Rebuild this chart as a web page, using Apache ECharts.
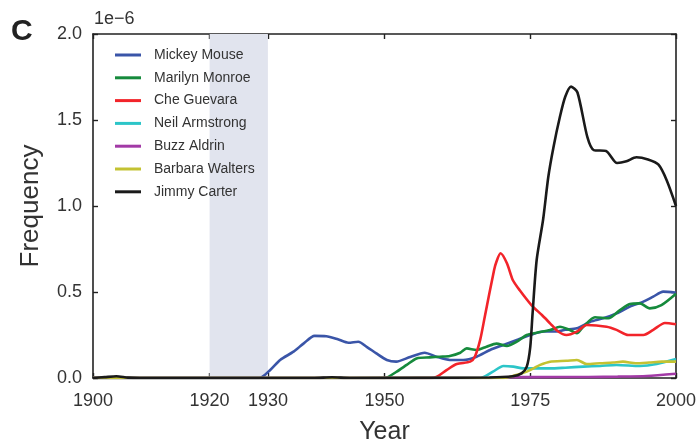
<!DOCTYPE html>
<html>
<head>
<meta charset="utf-8">
<script src="https://cdn.jsdelivr.net/npm/echarts@6/dist/echarts.min.js"></script>
<style>html,body{margin:0;padding:0;background:#fff}#c{width:697px;height:442px}</style>
</head>
<body>
<div id="c"></div>
<script>
// Values are in units of 1e-6
const seriesNames = ['Mickey Mouse','Marilyn Monroe','Che Guevara','Neil Armstrong','Buzz Aldrin','Barbara Walters','Jimmy Carter'];
const xTicks = [1900, 1920, 1930, 1950, 1975, 2000];
const yTicks = [0, 0.5, 1.0, 1.5, 2.0];
const shadedPeriod = [1920, 1930];

const mickeyMouse = [[1900,0],[1928.5,0],[1930.4,0.047],[1932.1,0.105],[1934.4,0.153],[1936.1,0.2],[1938,0.245],[1940,0.243],[1942,0.225],[1943.8,0.205],[1945.5,0.211],[1947,0.18],[1948.6,0.143],[1950.4,0.105],[1952,0.095],[1954.4,0.122],[1956.9,0.147],[1958.9,0.124],[1961.2,0.105],[1963.5,0.105],[1965.8,0.124],[1968.1,0.163],[1970.4,0.192],[1972.7,0.221],[1975,0.25],[1977.3,0.27],[1979.5,0.27],[1981,0.28],[1983,0.289],[1985.3,0.327],[1987.5,0.347],[1989.8,0.376],[1992.1,0.415],[1994.4,0.444],[1996.1,0.473],[1997.8,0.502],[2000,0.496]];
const marilynMonroe = [[1900,0],[1950,0],[1952.1,0.037],[1953.8,0.076],[1955.5,0.114],[1957.8,0.12],[1959.5,0.124],[1961.2,0.128],[1963,0.147],[1964.1,0.172],[1965.8,0.163],[1967.5,0.182],[1969.2,0.2],[1971,0.186],[1972.7,0.211],[1974.4,0.25],[1976.1,0.263],[1978.4,0.279],[1980.1,0.298],[1981.8,0.279],[1983,0.26],[1984.1,0.298],[1986.1,0.353],[1988.4,0.347],[1990.4,0.395],[1992.1,0.43],[1993.8,0.434],[1995.5,0.405],[1997.5,0.424],[2000,0.49]];
const cheGuevara = [[1900,0],[1958,0],[1959,0.008],[1960.7,0.047],[1962.4,0.081],[1964.7,0.095],[1965.5,0.124],[1966.4,0.22],[1967.2,0.356],[1968.8,0.628],[1969.2,0.676],[1969.9,0.725],[1971,0.667],[1972,0.57],[1973.2,0.51],[1975.2,0.424],[1977,0.366],[1978.4,0.318],[1979.8,0.27],[1981.2,0.25],[1983,0.27],[1984.7,0.308],[1988.1,0.298],[1989.8,0.28],[1991.8,0.25],[1994.4,0.25],[1996.1,0.28],[1998.1,0.32],[2000,0.312]];
const neilArmstrong = [[1900,0],[1966.5,0],[1968.6,0.037],[1970.4,0.07],[1972.1,0.066],[1973.8,0.056],[1976.1,0.056],[1978.4,0.056],[1981,0.06],[1984.1,0.066],[1987,0.07],[1989.8,0.076],[1993.8,0.07],[1996.7,0.081],[2000,0.11]];
const buzzAldrin = [[1900,0],[1968,0],[1969.5,0.004],[1975,0.005],[1985,0.006],[1990,0.008],[1995,0.012],[2000,0.025]];
const barbaraWalters = [[1900,0],[1970.5,0],[1972,0.012],[1974.4,0.037],[1976.7,0.076],[1978.4,0.095],[1981.2,0.1],[1983,0.105],[1984.7,0.081],[1987,0.086],[1989.2,0.09],[1990.9,0.095],[1993.1,0.086],[1995.4,0.09],[1997.6,0.095],[2000,0.095]];
const jimmyCarter = [[1900,0],[1902,0.005],[1904,0.01],[1906,0.002],[1908,0],[1938,0],[1941,0.004],[1944,0],[1968,0.003],[1972,0.01],[1973.5,0.027],[1974.4,0.066],[1975,0.18],[1975.4,0.376],[1976.1,0.686],[1977.2,0.92],[1978.1,1.17],[1979,1.345],[1980.1,1.52],[1981,1.635],[1982,1.694],[1983.1,1.66],[1984.8,1.40],[1985.9,1.325],[1988,1.32],[1989.9,1.25],[1991.5,1.26],[1993.2,1.283],[1995.2,1.27],[1997,1.24],[1998.4,1.15],[2000,1.0]];

const allData = [mickeyMouse, marilynMonroe, cheGuevara, neilArmstrong, buzzAldrin, barbaraWalters, jimmyCarter];
const colors = ['#3a55a8','#168a3c','#f2242a','#2cc5c8','#a23aa6','#c3c232','#1a1a1a'];

const chart = echarts.init(document.getElementById('c'), null, {renderer:'canvas'});
const FONT = 'Liberation Sans, Arial, sans-serif';
const axisCommon = {
  axisLine: {show:true, onZero:false, lineStyle:{color:'#222', width:1.6}},
  axisTick: {show:true, inside:true, length:5, lineStyle:{color:'#222', width:1.4}},
  splitLine: {show:false}
};
const series = seriesNames.map((n,i)=>({
  name:n, type:'line', data: allData[i], showSymbol:false, symbol:'none',
  smooth:0.25, lineStyle:{color:colors[i], width:2.6}, itemStyle:{color:colors[i]},
  z: 2 + i, silent:true, animation:false
}));
series[0].markArea = {silent:true, itemStyle:{color:'#e1e4ee'}, data:[[{xAxis:shadedPeriod[0]},{xAxis:shadedPeriod[1]}]]};

chart.setOption({
  animation:false,
  backgroundColor:'#fff',
  grid:{left:93, right:21, top:34, bottom:64, outerBoundsMode:'none', containLabel:false},
  legend:{
    orient:'vertical', left:110, top:43, itemWidth:26, itemHeight:3, itemGap:8.8, icon:'rect',
    data: seriesNames, textStyle:{fontFamily:FONT, fontSize:14, color:'#333', padding:[0,0,0,8]}
  },
  xAxis:[
    Object.assign({type:'value', min:1900, max:2000, position:'bottom',
      name:'Year', nameLocation:'middle', nameGap:42,
      nameTextStyle:{fontFamily:FONT, fontSize:25, color:'#333'},
      axisLabel:{customValues:xTicks, fontFamily:FONT, fontSize:18, color:'#333', margin:14, formatter:v=>String(v)},
    }, axisCommon, {axisTick:Object.assign({}, axisCommon.axisTick, {customValues:xTicks})}),
    Object.assign({type:'value', min:1900, max:2000, position:'top',
      axisLabel:{show:false}}, axisCommon, {axisTick:Object.assign({}, axisCommon.axisTick, {customValues:xTicks})})
  ],
  yAxis:[
    Object.assign({type:'value', min:0, max:2, interval:0.5, position:'left',
      name:'Frequency', nameLocation:'middle', nameGap:49,
      nameTextStyle:{fontFamily:FONT, fontSize:26, color:'#333'},
      axisLabel:{customValues:yTicks, fontFamily:FONT, fontSize:18, color:'#333', margin:11, formatter:v=>v.toFixed(1)}
    }, axisCommon),
    Object.assign({type:'value', min:0, max:2, interval:0.5, position:'right', axisLabel:{show:false}}, axisCommon)
  ],
  graphic:[
    {type:'text', left:11, top:17, style:{text:'C', font:'bold 30px '+FONT, fill:'#222'}},
    {type:'text', left:94, top:10, style:{text:'1e\u22126', font:'18px '+FONT, fill:'#333'}}
  ],
  series: series
});
</script>
</body>
</html>
